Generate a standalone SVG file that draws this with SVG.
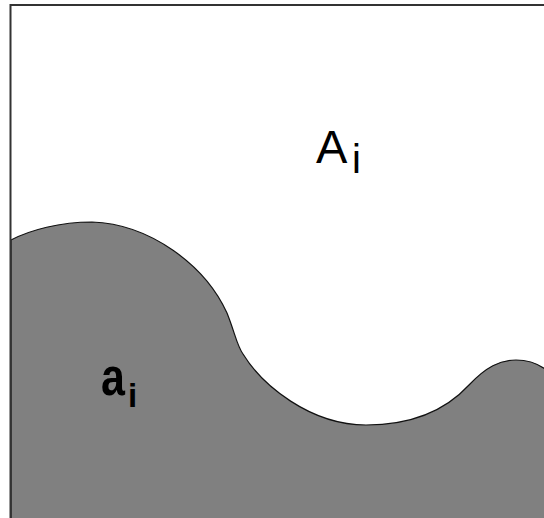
<svg xmlns="http://www.w3.org/2000/svg" width="544" height="518" viewBox="0 0 544 518">
  <style>
    .lbl { font-family: "Liberation Sans", Arial, sans-serif; fill: #000; }
    .bold { font-weight: bold; }
  </style>
  <rect x="0" y="0" width="544" height="518" fill="#fff"/>
  <g id="region-a">
    <path d="M 11 240 C 30 230 60 222 92 222 C 150 224 205 265 227 313 C 235 333 237 346 243 354 C 262 385 310 425 366 425 C 413 425 446 410 469 385 C 486 367 500 360 516 360 C 530 360 538 364 545 369 L 545 519 L 11 519 Z" fill="#808080" stroke="#111" stroke-width="1.2"/>
  </g>
  <g id="frame">
    <rect x="10.5" y="5" width="540" height="520" fill="none" stroke="#333" stroke-width="2"/>
  </g>
  <g id="label-A">
    <text class="lbl" x="316" y="163" font-size="47">A</text>
    <text class="lbl" x="352" y="173" font-size="40">i</text>
  </g>
  <g id="label-a">
    <text class="lbl bold" font-size="43" transform="translate(101 395) scale(1 1.25)">a</text>
    <text class="lbl bold" x="128" y="407" font-size="33">i</text>
  </g>
</svg>
